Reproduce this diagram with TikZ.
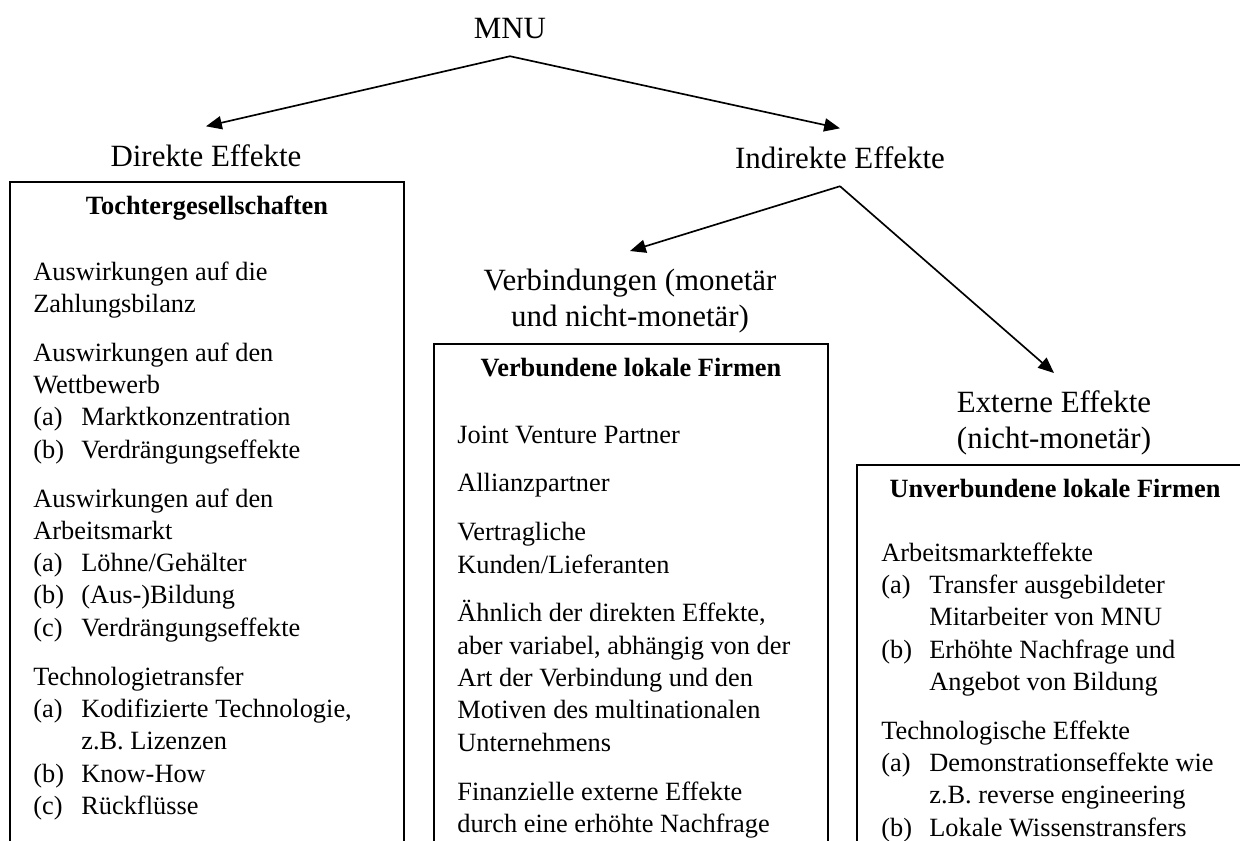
\documentclass[tikz,border=0pt]{standalone}
\usepackage{fontspec}
\setmainfont{Liberation Serif}
\usetikzlibrary{arrows.meta}
\newcommand{\einzug}{0.96cm}
\newcommand{\absatz}{9.4pt}
\newcommand{\punkt}[2]{\makebox[\einzug][l]{#1}#2}
\newcommand{\weiter}[1]{\hspace*{\einzug}#1}
\tikzset{
  effekt/.style={font=\fontsize{17.6}{20.5}\selectfont, inner sep=10pt},
  firmen/.style={font=\fontsize{15}{18.4}\selectfont\bfseries, inner sep=0pt, anchor=base},
  liste/.style={font=\fontsize{15}{18.4}\selectfont, inner sep=0pt, anchor=base west},
  pfeil/.style={-{Triangle[length=9pt,width=7.5pt]}, line width=0.95pt},
  rahmen/.style={line width=1.1pt}
}

\begin{document}
\begin{tikzpicture}[x=0.02cm, y=-0.02cm]
\useasboundingbox (0,0) rectangle (1240,840);
\clip (0,0) rectangle (1240,840);
% Effekte
\node[effekt, anchor=base] (mnu) at (510,38) {MNU};
\node[effekt, anchor=base] (direkt) at (206,166) {Direkte Effekte};
\node[effekt, anchor=base] (indirekt) at (840,168) {Indirekte Effekte};
\node[effekt, anchor=north, align=center] (verb) at (630,251) {Verbindungen (monetär\\und nicht-monetär)};
\node[effekt, anchor=north, align=center] (extern) at (1054,373) {Externe Effekte\\(nicht-monetär)};
\draw[pfeil] (mnu.south) -- (direkt.north);
\draw[pfeil] (mnu.south) -- (indirekt.north);
\draw[pfeil] (indirekt.south) -- (verb.north);
\draw[pfeil] (indirekt.south) -- (extern.north);
% Kaesten, unten offen
\draw[rahmen] (10,850) -- (10,182) -- (404,182) -- (404,850);
\draw[rahmen] (434,850) -- (434,344) -- (828,344) -- (828,850);
\draw[rahmen] (857,850) -- (857,465) -- (1253,465) -- (1253,850);
\node[firmen] (tochter) at (207,214) {Tochtergesellschaften};
\node[firmen] (verbfirm) at (631,376) {Verbundene lokale Firmen};
\node[firmen] (unverbfirm) at (1055,497) {Unverbundene lokale Firmen};
\node[liste] (txtdirekt) at (33,280) {\parbox[t]{7.4cm}{\raggedright
Auswirkungen auf die\\
Zahlungsbilanz\\[\absatz]
Auswirkungen auf den\\
Wettbewerb\\
\punkt{(a)}{Marktkonzentration}\\
\punkt{(b)}{Verdrängungseffekte}\\[\absatz]
Auswirkungen auf den\\
Arbeitsmarkt\\
\punkt{(a)}{Löhne/Gehälter}\\
\punkt{(b)}{(Aus-)Bildung}\\
\punkt{(c)}{Verdrängungseffekte}\\[\absatz]
Technologietransfer\\
\punkt{(a)}{Kodifizierte Technologie,}\\
\weiter{z.B. Lizenzen}\\
\punkt{(b)}{Know-How}\\
\punkt{(c)}{Rückflüsse}}};
\node[liste] (txtverb) at (457,443) {\parbox[t]{7.4cm}{\raggedright
Joint Venture Partner\\[\absatz]
Allianzpartner\\[\absatz]
Vertragliche\\
Kunden/Lieferanten\\[\absatz]
Ähnlich der direkten Effekte,\\
aber variabel, abhängig von der\\
Art der Verbindung und den\\
Motiven des multinationalen\\
Unternehmens\\[\absatz]
Finanzielle externe Effekte\\
durch eine erhöhte Nachfrage}};
\node[liste] (txtextern) at (881,561) {\parbox[t]{7.4cm}{\raggedright
Arbeitsmarkteffekte\\
\punkt{(a)}{Transfer ausgebildeter}\\
\weiter{Mitarbeiter von MNU}\\
\punkt{(b)}{Erhöhte Nachfrage und}\\
\weiter{Angebot von Bildung}\\[\absatz]
Technologische Effekte\\
\punkt{(a)}{Demonstrationseffekte wie}\\
\weiter{z.B. reverse engineering}\\
\punkt{(b)}{Lokale Wissenstransfers}}};
\end{tikzpicture}
\end{document}
